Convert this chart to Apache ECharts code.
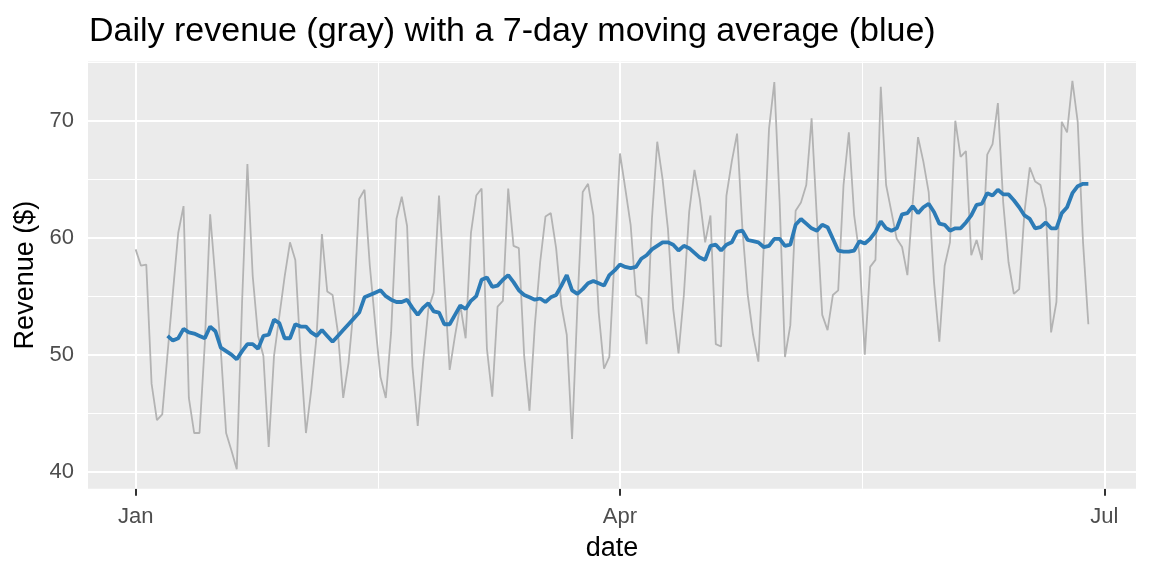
<!DOCTYPE html>
<html>
<head>
<meta charset="utf-8">
<script src="https://cdn.jsdelivr.net/npm/echarts@6/dist/echarts.min.js"></script>
<style>
  html, body { margin: 0; padding: 0; background: #ffffff; }
  #chart { width: 1152px; height: 576px; }
</style>
</head>
<body>
<div id="chart"></div>
<script>
// daily revenue, one value per day starting at startDate
var startDate = '2024-01-01';
var revenue = [
  59.0, 57.6, 57.7, 47.5, 44.4, 44.9, 50.1, 55.3, 60.4, 62.7,
  46.3, 43.3, 43.3, 51.0, 62.0, 56.4, 50.4, 43.3, 41.8, 40.2,
  54.5, 66.3, 56.7, 51.6, 49.9, 42.1, 49.9, 53.3, 56.7, 59.6,
  58.1, 49.9, 43.3, 47.0, 51.6, 60.3, 55.4, 55.1, 51.9, 46.3,
  49.3, 54.2, 63.3, 64.1, 57.6, 52.7, 48.1, 46.3, 51.9, 61.6,
  63.5, 61.0, 49.0, 43.9, 49.3, 53.9, 55.3, 63.6, 56.1, 48.7,
  51.6, 54.2, 51.4, 60.4, 63.6, 64.2, 50.5, 46.4, 54.1, 54.6,
  64.2, 59.3, 59.1, 49.9, 45.2, 52.5, 57.9, 61.8, 62.1, 59.1,
  54.2, 51.7, 42.8, 54.2, 63.9, 64.6, 61.9, 53.6, 48.8, 49.8,
  58.5, 67.2, 64.2, 61.1, 55.1, 54.8, 50.9, 61.6, 68.2, 65.0,
  60.8, 53.9, 50.1, 55.1, 62.2, 65.8, 63.3, 59.6, 61.9, 50.9,
  50.7, 63.6, 66.5, 68.9, 60.8, 55.1, 51.7, 49.4, 59.1, 69.3,
  73.3, 63.0, 49.8, 52.5, 62.3, 63.0, 64.5, 70.2, 61.6, 53.4,
  52.1, 55.1, 55.5, 64.5, 69.0, 61.9, 58.5, 50.0, 57.5, 58.1,
  72.9, 64.5, 62.2, 59.9, 59.2, 56.8, 63.0, 68.6, 66.5, 63.9,
  56.2, 51.1, 57.6, 59.6, 70.0, 66.9, 67.4, 58.5, 59.8, 58.1,
  67.1, 68.0, 71.5, 63.0, 57.9, 55.2, 55.6, 62.2, 66.0, 64.8,
  64.5, 62.5, 51.9, 54.5, 69.9, 69.0, 73.4, 69.9, 59.6, 52.6
];

// 7-day moving average as drawn, first value falls on day 6
var maStartDay = 6;
var movingAvg = [
  51.6, 51.2, 51.4, 52.2, 51.9, 51.8, 51.6, 51.4, 52.4, 52.0,
  50.6, 50.3, 50.0, 49.6, 50.3, 50.9, 50.9, 50.5, 51.6, 51.7,
  53.0, 52.7, 51.4, 51.4, 52.6, 52.4, 52.4, 51.9, 51.6, 52.1,
  51.6, 51.1, 51.6, 52.1, 52.6, 53.1, 53.6, 54.9, 55.1, 55.3,
  55.5, 55.0, 54.7, 54.5, 54.5, 54.7, 54.0, 53.4, 54.0, 54.4,
  53.7, 53.6, 52.6, 52.6, 53.4, 54.2, 53.9, 54.6, 55.0, 56.4,
  56.6, 55.8, 55.9, 56.4, 56.8, 56.2, 55.5, 55.1, 54.9, 54.7,
  54.8, 54.5, 54.9, 55.1, 55.9, 56.8, 55.5, 55.2, 55.6, 56.1,
  56.3, 56.1, 55.9, 56.8, 57.2, 57.7, 57.5, 57.4, 57.5, 58.2,
  58.5, 59.0, 59.3, 59.6, 59.6, 59.4, 58.9, 59.3, 59.1, 58.7,
  58.3, 58.1, 59.3, 59.4, 58.9, 59.4, 59.6, 60.5, 60.6, 59.8,
  59.7, 59.6, 59.2, 59.3, 59.9, 59.9, 59.3, 59.4, 61.1, 61.6,
  61.2, 60.8, 60.6, 61.1, 60.9, 59.9, 58.9, 58.8, 58.8, 58.9,
  59.7, 59.5, 59.9, 60.5, 61.4, 60.8, 60.6, 60.8, 62.0, 62.1,
  62.7, 62.1, 62.6, 62.9, 62.2, 61.2, 61.1, 60.6, 60.8, 60.8,
  61.3, 61.9, 62.8, 62.9, 63.8, 63.6, 64.1, 63.7, 63.7, 63.2,
  62.6, 61.9, 61.6, 60.8, 60.9, 61.3, 60.8, 60.8, 62.1, 62.6,
  63.8, 64.4, 64.6, 64.6
];

var monthTickDates = ['2024-01-01', '2024-04-01', '2024-07-01'];
var monthLabels = ['Jan', 'Apr', 'Jul'];
var yTicks = [40, 50, 60, 70];
var yMinorTicks = [45, 55, 65, 75];

function dayOf(s) {
    return (Date.parse(s) - Date.parse(startDate)) / 86400000;
}

var tickDays = monthTickDates.map(dayOf);
var minorDays = [];
for (var i = 1; i < tickDays.length; i++) {
    minorDays.push((tickDays[i - 1] + tickDays[i]) / 2);
}

// ggplot style 5% expansion around the data
var lastDay = revenue.length - 1;
var xPad = lastDay * 0.05;
var yLo = Math.min.apply(null, revenue);
var yHi = Math.max.apply(null, revenue);
var yPad = (yHi - yLo) * 0.05;

var gridLines = [];
minorDays.forEach(function (d) {
    gridLines.push({ xAxis: d, lineStyle: { color: '#ffffff', width: 1, type: 'solid' } });
});
yMinorTicks.forEach(function (v) {
    gridLines.push({ yAxis: v, lineStyle: { color: '#ffffff', width: 1, type: 'solid' } });
});
tickDays.forEach(function (d) {
    gridLines.push({ xAxis: d, lineStyle: { color: '#ffffff', width: 2, type: 'solid' } });
});
yTicks.forEach(function (v) {
    gridLines.push({ yAxis: v, lineStyle: { color: '#ffffff', width: 2, type: 'solid' } });
});

var fontFamily = 'Liberation Sans, Arial, sans-serif';

var myChart = echarts.init(document.getElementById('chart'));
var option = {
    animation: false,
    backgroundColor: '#ffffff',
    title: {
        text: 'Daily revenue (gray) with a 7-day moving average (blue)',
        left: 84,
        top: 10,
        textStyle: {
            fontFamily: fontFamily,
            fontSize: 34,
            fontWeight: 'normal',
            color: '#000000'
        }
    },
    grid: {
        left: 88,
        right: 16,
        top: 61.5,
        bottom: 87.3,
        show: true,
        backgroundColor: '#EBEBEB',
        borderWidth: 0
    },
    xAxis: {
        type: 'value',
        min: -xPad,
        max: lastDay + xPad,
        name: 'date',
        nameLocation: 'middle',
        nameGap: 46,
        nameTextStyle: { fontFamily: fontFamily, fontSize: 27, color: '#000000' },
        axisLine: { show: false },
        splitLine: { show: false },
        axisTick: {
            show: true,
            customValues: tickDays,
            length: 7,
            lineStyle: { color: '#333333', width: 2 }
        },
        axisLabel: {
            customValues: tickDays,
            margin: 17,
            fontFamily: fontFamily,
            fontSize: 22,
            color: '#4D4D4D',
            formatter: function (v) {
                var k = tickDays.indexOf(v);
                return k >= 0 ? monthLabels[k] : '';
            }
        }
    },
    yAxis: {
        type: 'value',
        min: yLo - yPad,
        max: yHi + yPad,
        name: 'Revenue ($)',
        nameLocation: 'middle',
        nameGap: 41,
        nameTextStyle: { fontFamily: fontFamily, fontSize: 27, color: '#000000' },
        axisLine: { show: false },
        splitLine: { show: false },
        axisTick: {
            show: true,
            customValues: yTicks,
            length: 7,
            lineStyle: { color: '#333333', width: 2 }
        },
        axisLabel: {
            customValues: yTicks,
            margin: 14,
            fontFamily: fontFamily,
            fontSize: 22,
            color: '#4D4D4D'
        }
    },
    series: [
        {
            name: 'grid',
            type: 'line',
            data: [],
            silent: true,
            z: 1,
            markLine: {
                silent: true,
                symbol: 'none',
                z: 1,
                animation: false,
                label: { show: false },
                data: gridLines
            }
        },
        {
            name: 'revenue',
            type: 'line',
            z: 3,
            showSymbol: false,
            data: revenue.map(function (v, i) { return [i, v]; }),
            lineStyle: { color: '#B3B3B3', width: 1.8 },
            itemStyle: { color: '#B3B3B3' }
        },
        {
            name: '7-day average',
            type: 'line',
            z: 4,
            showSymbol: false,
            data: movingAvg.map(function (v, i) { return [i + maStartDay, v]; }),
            lineStyle: { color: '#2C7BB6', width: 3.8 },
            itemStyle: { color: '#2C7BB6' }
        }
    ]
};

myChart.setOption(option);
</script>
</body>
</html>
